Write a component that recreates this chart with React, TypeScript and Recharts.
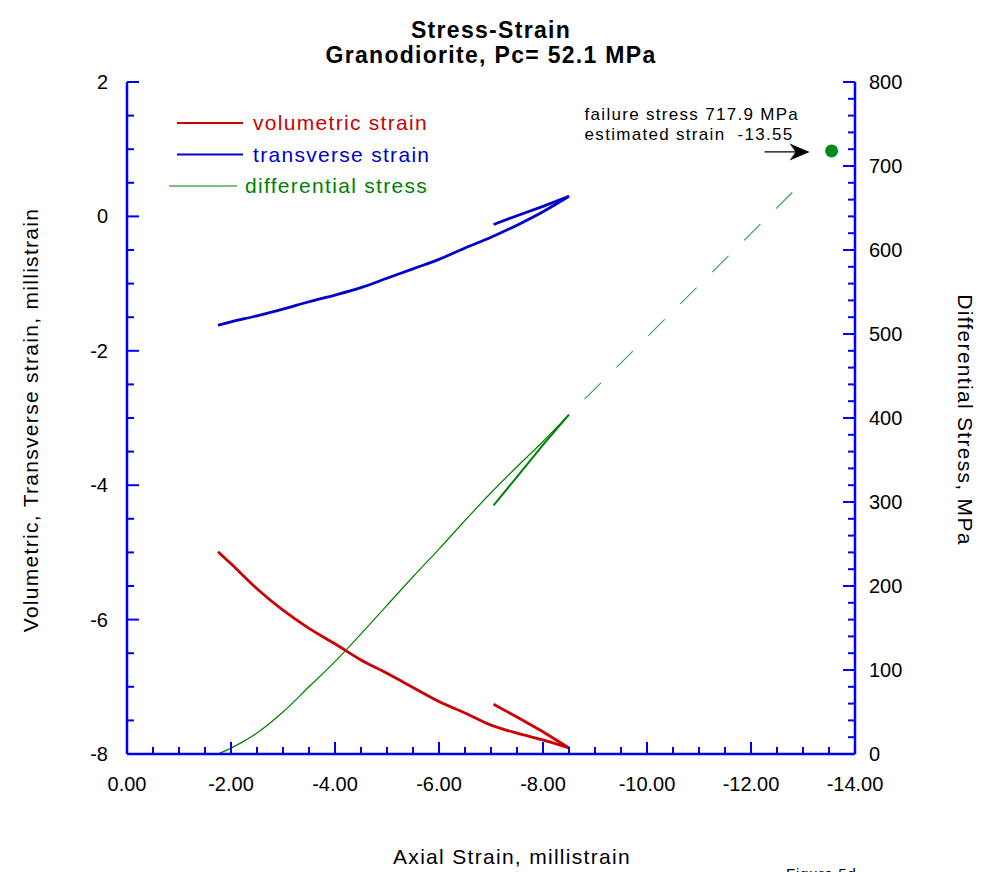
import React from 'react';
import { ComposedChart, Line, Scatter, XAxis, YAxis, Legend, Customized } from 'recharts';

const FONT = '"Liberation Sans", Arial, sans-serif';
const FRAME = '#0000ee';
const RED = '#cc0000';
const BLUE = '#0000cc';
const GREEN = '#007f00';
const TRACK = 1.3;

// loading branch, axial strain in millistrain
const axialLoad = [-1.75, -2.0, -2.5, -3.0, -3.5, -4.0, -4.5, -5.0, -5.5, -6.0, -6.5, -7.0, -7.5, -8.0, -8.5];
const volLoad = [-4.99, -5.17, -5.54, -5.86, -6.13, -6.36, -6.6, -6.8, -7.01, -7.22, -7.39, -7.57, -7.69, -7.79, -7.91];
const transLoad = [-1.62, -1.57, -1.48, -1.38, -1.27, -1.17, -1.06, -0.92, -0.78, -0.64, -0.47, -0.31, -0.13, 0.07, 0.3];
const stressLoad = [0, 7, 25, 50, 80, 110, 143, 177, 211, 244, 278, 311, 342, 372, 404];

// unloading branch
const axialUnload = [-8.5, -8.0, -7.5, -7.05];
const volUnload = [-7.91, -7.67, -7.45, -7.26];
const transUnload = [0.3, 0.15, 0.01, -0.12];
const stressUnload = [404, 368, 330, 296];

// extrapolation to failure
const axialExtrap = [-8.5, -12.95];
const stressExtrap = [404, 678];
const failureStrain = -13.55;
const failureStress = 717.9;

const xMajor = [0, -2, -4, -6, -8, -10, -12, -14];
const leftMajor = [-8, -6, -4, -2, 0, 2];
const rightMajor = [0, 100, 200, 300, 400, 500, 600, 700, 800];

const xTicks = Array.from({ length: 29 }, (_, i) => -i * 0.5);
const leftTicks = Array.from({ length: 21 }, (_, i) => -8 + i * 0.5);
const rightTicks = Array.from({ length: 41 }, (_, i) => i * 20);

const legendItems = [
    { label: 'volumetric strain', color: RED, width: 2.2, x1: 17, x2: 83, tx: 93 },
    { label: 'transverse strain', color: BLUE, width: 2.2, x1: 17, x2: 83, tx: 93 },
    { label: 'differential stress', color: GREEN, width: 1, x1: 9, x2: 77, tx: 85 },
];

const loadRows = axialLoad.map((a, i) => ({ a, vol: volLoad[i], trans: transLoad[i], stress: stressLoad[i] }));
const unloadRows = axialUnload.map((a, i) => ({ a, vol: volUnload[i], trans: transUnload[i], stress: stressUnload[i] }));
const extrapRows = axialExtrap.map((a, i) => ({ a, stress: stressExtrap[i] }));
const failureRows = [{ a: failureStrain, stress: failureStress }];

const makeTick = (side: string, majors: number[], fmt: (v: number) => string) => (props: any) => {
    const { x, y, payload } = props;
    const v = payload.value;
    const major = majors.includes(v);
    const len = major ? 12 : 7;
    let line;
    let label = null;
    if (side === 'bottom') {
        line = <line x1={x} y1={y} x2={x} y2={y - len} />;
        if (major) label = <text x={x} y={y + 37} textAnchor="middle">{fmt(v)}</text>;
    } else if (side === 'top') {
        line = <line x1={x} y1={y} x2={x} y2={y + len} />;
    } else if (side === 'left') {
        line = <line x1={x} y1={y} x2={x + len} y2={y} />;
        if (major) label = <text x={x - 19} y={y + 7} textAnchor="end">{fmt(v)}</text>;
    } else {
        line = <line x1={x} y1={y} x2={x - len} y2={y} />;
        if (major) label = <text x={x + 14} y={y + 7} textAnchor="start">{fmt(v)}</text>;
    }
    return (
        <g>
            <g stroke={FRAME} strokeWidth={2}>{line}</g>
            {label && <g fill="#000" fontSize={20} fontFamily={FONT}>{label}</g>}
        </g>
    );
};

const fmtStrain = (v: number) => (v === 0 ? '0.00' : v.toFixed(2));
const fmtInt = (v: number) => String(v);

const FailureMark = (props: any) => {
    const { cx, cy, payload } = props;
    const ay = cy + 1;
    return (
        <g>
            <circle cx={cx} cy={cy} r={6.5} fill="#008a1a" />
            <line x1={cx - 67} y1={ay} x2={cx - 28} y2={ay} stroke="#000" strokeWidth={1.2} />
            <polygon points={`${cx - 22},${ay} ${cx - 42},${ay - 8.5} ${cx - 36},${ay} ${cx - 42},${ay + 8.5}`} fill="#000" />
            <g fontFamily={FONT} fontSize={17} fill="#000" letterSpacing={TRACK}>
                <text x={cx - 247} y={cy - 31}>{`failure stress ${payload.stress} MPa`}</text>
                <text x={cx - 247} y={cy - 11} style={{ whiteSpace: 'pre' }}>{`estimated strain  ${payload.a}`}</text>
            </g>
        </g>
    );
};

const LegendBox = () => (
    <svg width={300} height={95} style={{ display: 'block' }}>
        {legendItems.map((it, i) => {
            const y = 18 + i * 31.5;
            return (
                <g key={it.label}>
                    <line x1={it.x1} x2={it.x2} y1={y} y2={y} stroke={it.color} strokeWidth={it.width} />
                    <text x={it.tx} y={y + 7} fill={it.color} fontSize={21} fontFamily={FONT} letterSpacing={TRACK}>
                        {it.label}
                    </text>
                </g>
            );
        })}
    </svg>
);

const Decorations = () => (
    <g fontFamily={FONT} fill="#000" letterSpacing={TRACK}>
        <text x={491} y={38} textAnchor="middle" fontSize={23} fontWeight="bold">Stress-Strain</text>
        <text x={491} y={63} textAnchor="middle" fontSize={23} fontWeight="bold">Granodiorite, Pc= 52.1 MPa</text>
        <text x={512} y={864} textAnchor="middle" fontSize={21}>Axial Strain, millistrain</text>
        <text x={30} y={420} textAnchor="middle" dominantBaseline="central" fontSize={21} transform="rotate(-90 30 420)">
            Volumetric, Transverse strain, millistrain
        </text>
        <text x={965} y={420} textAnchor="middle" dominantBaseline="central" fontSize={21} transform="rotate(90 965 420)">
            Differential Stress, MPa
        </text>
        <text x={786} y={879} fontSize={15} letterSpacing={0.8}>Figure 5d</text>
    </g>
);

const axisLine = { stroke: FRAME, strokeWidth: 2.5 };
const noDot = { dot: false, activeDot: false, isAnimationActive: false } as const;

export default function App() {
    return (
        <div style={{ position: 'absolute', left: 0, top: 0, background: '#fff' }}>
            <ComposedChart width={982} height={872} margin={{ top: 82, right: 0, bottom: 0, left: 0 }}>
                <XAxis
                    xAxisId="bottom"
                    dataKey="a"
                    type="number"
                    domain={[-14, 0]}
                    reversed
                    allowDataOverflow
                    ticks={xTicks}
                    interval={0}
                    height={118}
                    tickSize={0}
                    tickMargin={0}
                    tickLine={false}
                    axisLine={axisLine}
                    tick={makeTick('bottom', xMajor, fmtStrain)}
                />
                <XAxis
                    xAxisId="top"
                    orientation="top"
                    dataKey="a"
                    type="number"
                    domain={[-14, 0]}
                    reversed
                    allowDataOverflow
                    ticks={xTicks}
                    interval={0}
                    height={0}
                    tickSize={0}
                    tickMargin={0}
                    tickLine={false}
                    axisLine={axisLine}
                    tick={makeTick('top', xMajor, fmtStrain)}
                />
                <YAxis
                    yAxisId="left"
                    type="number"
                    domain={[-8, 2]}
                    allowDataOverflow
                    ticks={leftTicks}
                    interval={0}
                    width={127}
                    tickSize={0}
                    tickMargin={0}
                    tickLine={false}
                    axisLine={axisLine}
                    tick={makeTick('left', leftMajor, fmtInt)}
                />
                <YAxis
                    yAxisId="right"
                    orientation="right"
                    type="number"
                    domain={[0, 800]}
                    allowDataOverflow
                    ticks={rightTicks}
                    interval={0}
                    width={127}
                    tickSize={0}
                    tickMargin={0}
                    tickLine={false}
                    axisLine={axisLine}
                    tick={makeTick('right', rightMajor, fmtInt)}
                />
                <Line xAxisId="bottom" yAxisId="right" data={loadRows} dataKey="stress" type="monotone"
                    stroke={GREEN} strokeWidth={1.2} {...noDot} />
                <Line xAxisId="bottom" yAxisId="right" data={unloadRows} dataKey="stress" type="linear"
                    stroke={GREEN} strokeWidth={2} {...noDot} />
                <Line xAxisId="bottom" yAxisId="right" data={extrapRows} dataKey="stress" type="linear"
                    stroke="#3c9a3c" strokeWidth={1.1} strokeDasharray="23 22" strokeDashoffset={23} {...noDot} />
                <Line xAxisId="bottom" yAxisId="left" data={loadRows} dataKey="vol" type="monotone"
                    stroke={RED} strokeWidth={2.8} {...noDot} />
                <Line xAxisId="bottom" yAxisId="left" data={unloadRows} dataKey="vol" type="linear"
                    stroke={RED} strokeWidth={2.8} {...noDot} />
                <Line xAxisId="bottom" yAxisId="left" data={loadRows} dataKey="trans" type="monotone"
                    stroke={BLUE} strokeWidth={2.8} {...noDot} />
                <Line xAxisId="bottom" yAxisId="left" data={unloadRows} dataKey="trans" type="linear"
                    stroke={BLUE} strokeWidth={2.8} {...noDot} />
                <Scatter
                    xAxisId="bottom"
                    yAxisId="right"
                    data={failureRows}
                    dataKey="stress"
                    shape={<FailureMark />}
                    isAnimationActive={false}
                />
                <Legend
                    layout="vertical"
                    align="center"
                    verticalAlign="middle"
                    wrapperStyle={{ left: 160, top: 105, width: 300, height: 95 }}
                    content={() => <LegendBox />}
                />
                <Customized component={Decorations} />
            </ComposedChart>
        </div>
    );
}
